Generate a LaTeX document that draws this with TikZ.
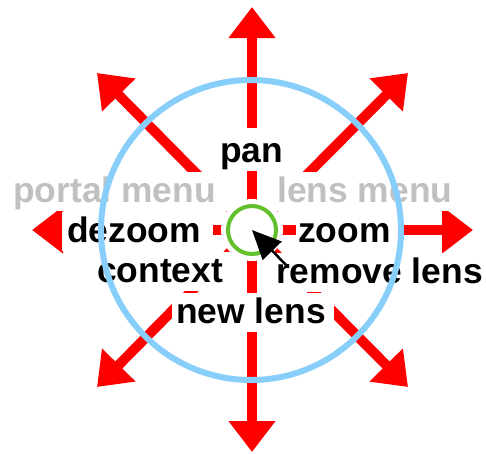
\documentclass[tikz,border=0pt]{standalone}
\usepackage{fontspec}
\setmainfont{Liberation Sans}
\usetikzlibrary{arrows.meta}
\definecolor{arrowred}{RGB}{255,0,0}
\definecolor{ringblue}{RGB}{135,206,250}
\definecolor{lensgreen}{RGB}{98,192,44}
\definecolor{menugray}{RGB}{192,192,192}
\begin{document}
\begin{tikzpicture}[x=1pt,y=-1pt,
  dir/.style={draw=arrowred, line width=10pt, -{Triangle[length=31pt,width=45pt]}},
  lbl/.style={fill=white, inner xsep=3pt, inner ysep=0pt, text height=30pt, text depth=9pt,
    anchor=base west, font=\fontsize{35.4}{42}\selectfont\bfseries},
  cmd/.style={lbl, text=black},
  menu/.style={lbl, text=menugray}]
\useasboundingbox (0,0) rectangle (486,453);
\coordinate (c) at (252,230);
\coordinate (tN) at (252,7);
\coordinate (tS) at (252,452);
\coordinate (tW) at (32,230);
\coordinate (tE) at (473,230);
\coordinate (tNW) at (97,73);
\coordinate (tNE) at (408,73);
\coordinate (tSW) at (97,387);
\coordinate (tSE) at (408,387);
\foreach \t in {tN,tS,tW,tE,tNW,tNE,tSW,tSE}
  \draw[dir] (c) -- (\t);
% labels (white boxes hide the arrows)
\node[cmd, text height=34pt] (pan) at (217,162) {pan};
\node[menu] (portal) at (10,202) {portal menu\hspace*{24pt}};
\node[menu] (lensmenu) at (260,202) {\hspace*{14pt}lens menu};
\node[cmd, inner xsep=5pt] (dezoom) at (62,242) {dezoom\hspace*{7pt}};
\node[cmd, inner xsep=2pt] (zoom) at (296,242) {zoom\hspace*{5pt}};
\node[cmd] (context) at (94,282) {context\hspace*{14pt}};
\node[cmd] (remove) at (261,283) {\hspace*{12pt}remove lens};
\node[cmd, inner xsep=4pt] (newlens) at (172,323) {new lens\hspace*{4pt}};
% big ring
\node[circle, draw=ringblue, line width=6pt, minimum size=300pt, inner sep=0pt] (ring) at (251,230) {};
% lens
\node[circle, fill=white, minimum size=62pt, inner sep=0pt] (disk) at (c) {};
\node[circle, draw=lensgreen, line width=4pt, minimum size=48pt, inner sep=0pt] (lens) at (c) {};
% cursor
\coordinate (ctail) at (287,266);
\draw[black, line width=2.5pt, -{Triangle[length=29pt,width=26pt]}] (ctail) -- (c);
\end{tikzpicture}
\end{document}
